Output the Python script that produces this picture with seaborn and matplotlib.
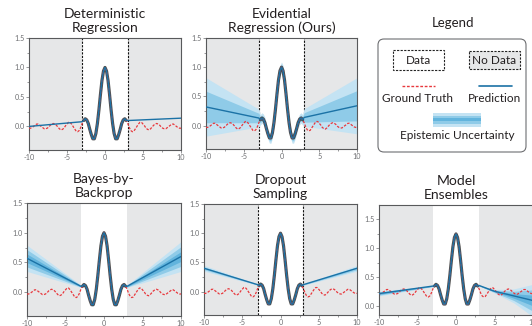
import numpy as np
import matplotlib
matplotlib.use("Agg")
import matplotlib.pyplot as plt
import seaborn as sns
from matplotlib.patches import FancyBboxPatch, Rectangle

# sample positions and ground truth (step 0.2 from -10 to 10)
x_grid = np.round(np.linspace(-10, 10, 101), 1)
truth_y = [-0.03, -0.03, -0.02, 0.00, 0.02, 0.04, 0.04, 0.02, 0.00, -0.02,
           -0.04, -0.04, -0.03, -0.01, 0.02, 0.04, 0.05, 0.04, 0.02, -0.01,
           -0.04, -0.06, -0.05, -0.03, 0.01, 0.04, 0.07, 0.07, 0.04, 0.00,
           -0.04, -0.08, -0.09, -0.07, -0.02, 0.05, 0.10, 0.13, 0.11, 0.05,
           -0.05, -0.14, -0.21, -0.21, -0.12, 0.05, 0.28, 0.54, 0.78, 0.94,
           1.00,
           0.94, 0.78, 0.54, 0.28, 0.05, -0.12, -0.21, -0.21, -0.14, -0.05,
           0.05, 0.11, 0.13, 0.10, 0.05, -0.02, -0.07, -0.09, -0.08, -0.04,
           0.00, 0.04, 0.07, 0.07, 0.04, 0.01, -0.03, -0.05, -0.06, -0.04,
           -0.01, 0.02, 0.04, 0.05, 0.04, 0.02, -0.01, -0.03, -0.04, -0.04,
           -0.02, 0.00, 0.02, 0.04, 0.04, 0.02, 0.00, -0.02, -0.03, -0.03]
data_lo, data_hi = -3, 3
ens_offset = 0.25  # ensembles panel is shifted up

titles = ["Deterministic\nRegression", "Evidential\nRegression (Ours)",
          "Bayes-by-\nBackprop", "Dropout\nSampling", "Model\nEnsembles"]

# predictions outside the data region: x, mean, band half-width
left_x = [-10, -3]
right_x = [3, 10]
det_left, det_right = [0.00, 0.08], [0.10, 0.14]
evi_left, evi_right = [0.32, 0.13], [0.14, 0.34]
evi_band_left, evi_band_right, evi_band_in = [0.50, 0.15], [0.15, 0.48], 0.09
bbb_left, bbb_right = [0.57, 0.10], [0.10, 0.60]
bbb_band_left, bbb_band_right, bbb_band_in = [0.22, 0.02], [0.02, 0.25], 0.02
drop_left, drop_right = [0.40, 0.12], [0.12, 0.40]
drop_band_left, drop_band_right, drop_band_in = [0.05, 0.01], [0.01, 0.05], 0.01
ens_left = [0.22, 0.35]
ens_right_x = [3, 5, 7.5, 10]
ens_right = [0.36, 0.26, 0.18, 0.10]
ens_band_left, ens_band_right, ens_band_in = [0.04, 0.01], [0.01, 0.03, 0.12, 0.28], 0.01

RED = "#e8383d"
BLUE = "#1b72a6"
GRAY_BG = "#e6e7e8"
DATA_C = "#3d3d3d"
BAND_C = ["#c4e3f3", "#8fcbe8", "#62b4dd"]
TXT = "#231f20"

sns.set_theme(style="white")
plt.rcParams["font.family"] = ["Lato", "DejaVu Sans"]

fig = plt.figure(figsize=(5.32, 3.26), dpi=100)
W, H = 532, 326


def add_ax(l, t, r, b):
    return fig.add_axes([l / W, 1 - b / H, (r - l) / W, (b - t) / H])


def draw_panel(ax, title, lx, ly, rx, ry, offset=0.0, band=None, levels=(1.0,),
               dashed=True, ylim=(-0.4, 1.5)):
    inner = (x_grid > data_lo) & (x_grid < data_hi)
    xi = x_grid[inner]
    ti = np.array(truth_y)[inner] + offset
    ax.axvspan(-10.5, data_lo, color=GRAY_BG, lw=0, zorder=0)
    ax.axvspan(data_hi, 10.5, color=GRAY_BG, lw=0, zorder=0)
    if dashed:
        for xv in (data_lo, data_hi):
            ax.axvline(xv, color="#111111", lw=0.8, ls=(0, (2, 1.2)), zorder=1)
    px = np.concatenate([lx, xi, rx])
    py = np.concatenate([ly, ti, ry])
    if band is not None:
        bl, br, bi = band
        hw = np.concatenate([bl, np.full(len(xi), bi), br])
        for k, f in enumerate(levels):
            ax.fill_between(px, py - hw * f, py + hw * f, color=BAND_C[k], lw=0, zorder=2)
    sns.lineplot(x=xi, y=ti, ax=ax, color=DATA_C, lw=2.3, alpha=0.9, zorder=3, sort=False)
    sns.lineplot(x=x_grid, y=np.array(truth_y) + offset, ax=ax, color=RED, lw=0.9,
                 ls=(0, (2, 1.2)), zorder=4, sort=False)
    sns.lineplot(x=px, y=py, ax=ax, color=BLUE, lw=1.0, zorder=5, sort=False)
    ax.set_xlim(-10, 10)
    ax.set_ylim(*ylim)
    ax.set_xticks([-10, -5, 0, 5, 10])
    ax.set_xticks([-7.5, -2.5, 2.5, 7.5], minor=True)
    ax.set_yticks([0.0, 0.5, 1.0, 1.5])
    ax.set_yticks([0.25, 0.75, 1.25], minor=True)
    ax.set_xticklabels(["-10", "-5", "0", "5", "10"])
    ax.set_yticklabels(["0.0", "0.5", "1.0", "1.5"])
    ax.tick_params(which="both", direction="out", length=2, width=0.5, color="#6d6e71",
                   labelsize=5.2, labelcolor="#6d6e71", pad=1.2, bottom=True, left=True)
    ax.tick_params(which="minor", length=1.5)
    for s in ax.spines.values():
        s.set_color("#58595b")
        s.set_linewidth(0.8)
    ax.set_xlabel("")
    ax.set_ylabel("")
    ax.set_title(title, fontsize=10, color=TXT, pad=4, linespacing=1.2)


ax1 = add_ax(29, 38, 181, 150)
draw_panel(ax1, titles[0], left_x, det_left, right_x, det_right)

ax2 = add_ax(206, 38, 357, 149)
draw_panel(ax2, titles[1], left_x, evi_left, right_x, evi_right,
           band=(evi_band_left, evi_band_right, evi_band_in), levels=(1.0, 0.54))

ax3 = add_ax(27, 203, 181, 316)
draw_panel(ax3, titles[2], left_x, bbb_left, right_x, bbb_right,
           band=(bbb_band_left, bbb_band_right, bbb_band_in), levels=(1.0, 0.66, 0.33),
           dashed=False)

ax4 = add_ax(204, 204, 357, 315)
draw_panel(ax4, titles[3], left_x, drop_left, right_x, drop_right,
           band=(drop_band_left, drop_band_right, drop_band_in), levels=(1.0, 0.5))

ax5 = add_ax(379, 205, 533, 315)
draw_panel(ax5, titles[4], left_x, ens_left, ens_right_x, ens_right, offset=ens_offset,
           band=(ens_band_left, ens_band_right, ens_band_in), levels=(1.0, 0.66, 0.33),
           dashed=False, ylim=(-0.15, 1.75))

# legend panel drawn in pixel coordinates
axl = add_ax(377, 38, 527, 153)
axl.set_xlim(377, 527)
axl.set_ylim(153, 38)
axl.axis("off")
axl.add_patch(FancyBboxPatch((378, 39), 148, 113, boxstyle="round,pad=0,rounding_size=6",
                             ec="#6d6e71", fc="white", lw=0.8))
axl.add_patch(Rectangle((393, 50), 51, 20, fill=False, ec="#222222", lw=0.8, ls=(0, (2, 1.2))))
axl.text(418.5, 60.5, "Data", ha="center", va="center", fontsize=8.5, color=TXT)
axl.add_patch(Rectangle((469, 51), 51, 18, fc=GRAY_BG, ec="#222222", lw=0.8, ls=(0, (2, 1.2))))
axl.text(494.5, 60.5, "No Data", ha="center", va="center", fontsize=8.5, color=TXT)
axl.plot([402, 435], [86, 86], color=RED, lw=1.0, ls=(0, (2, 1.2)))
axl.text(418, 99, "Ground Truth", ha="center", va="center", fontsize=8.5, color=TXT)
axl.plot([479, 512], [86, 86], color=BLUE, lw=1.2)
axl.text(495, 99, "Prediction", ha="center", va="center", fontsize=8.5, color=TXT)
axl.add_patch(Rectangle((433, 113), 48, 14, fc=BAND_C[0], lw=0))
axl.add_patch(Rectangle((433, 116), 48, 8, fc=BAND_C[1], lw=0))
axl.add_patch(Rectangle((433, 118.5), 48, 3, fc=BAND_C[2], lw=0))
axl.text(457, 136, "Epistemic Uncertainty", ha="center", va="center", fontsize=8.5, color=TXT)
fig.text(453 / W, 1 - 23 / H, "Legend", ha="center", va="center", fontsize=9.5, color=TXT)

fig.savefig("out.png", dpi=100)
